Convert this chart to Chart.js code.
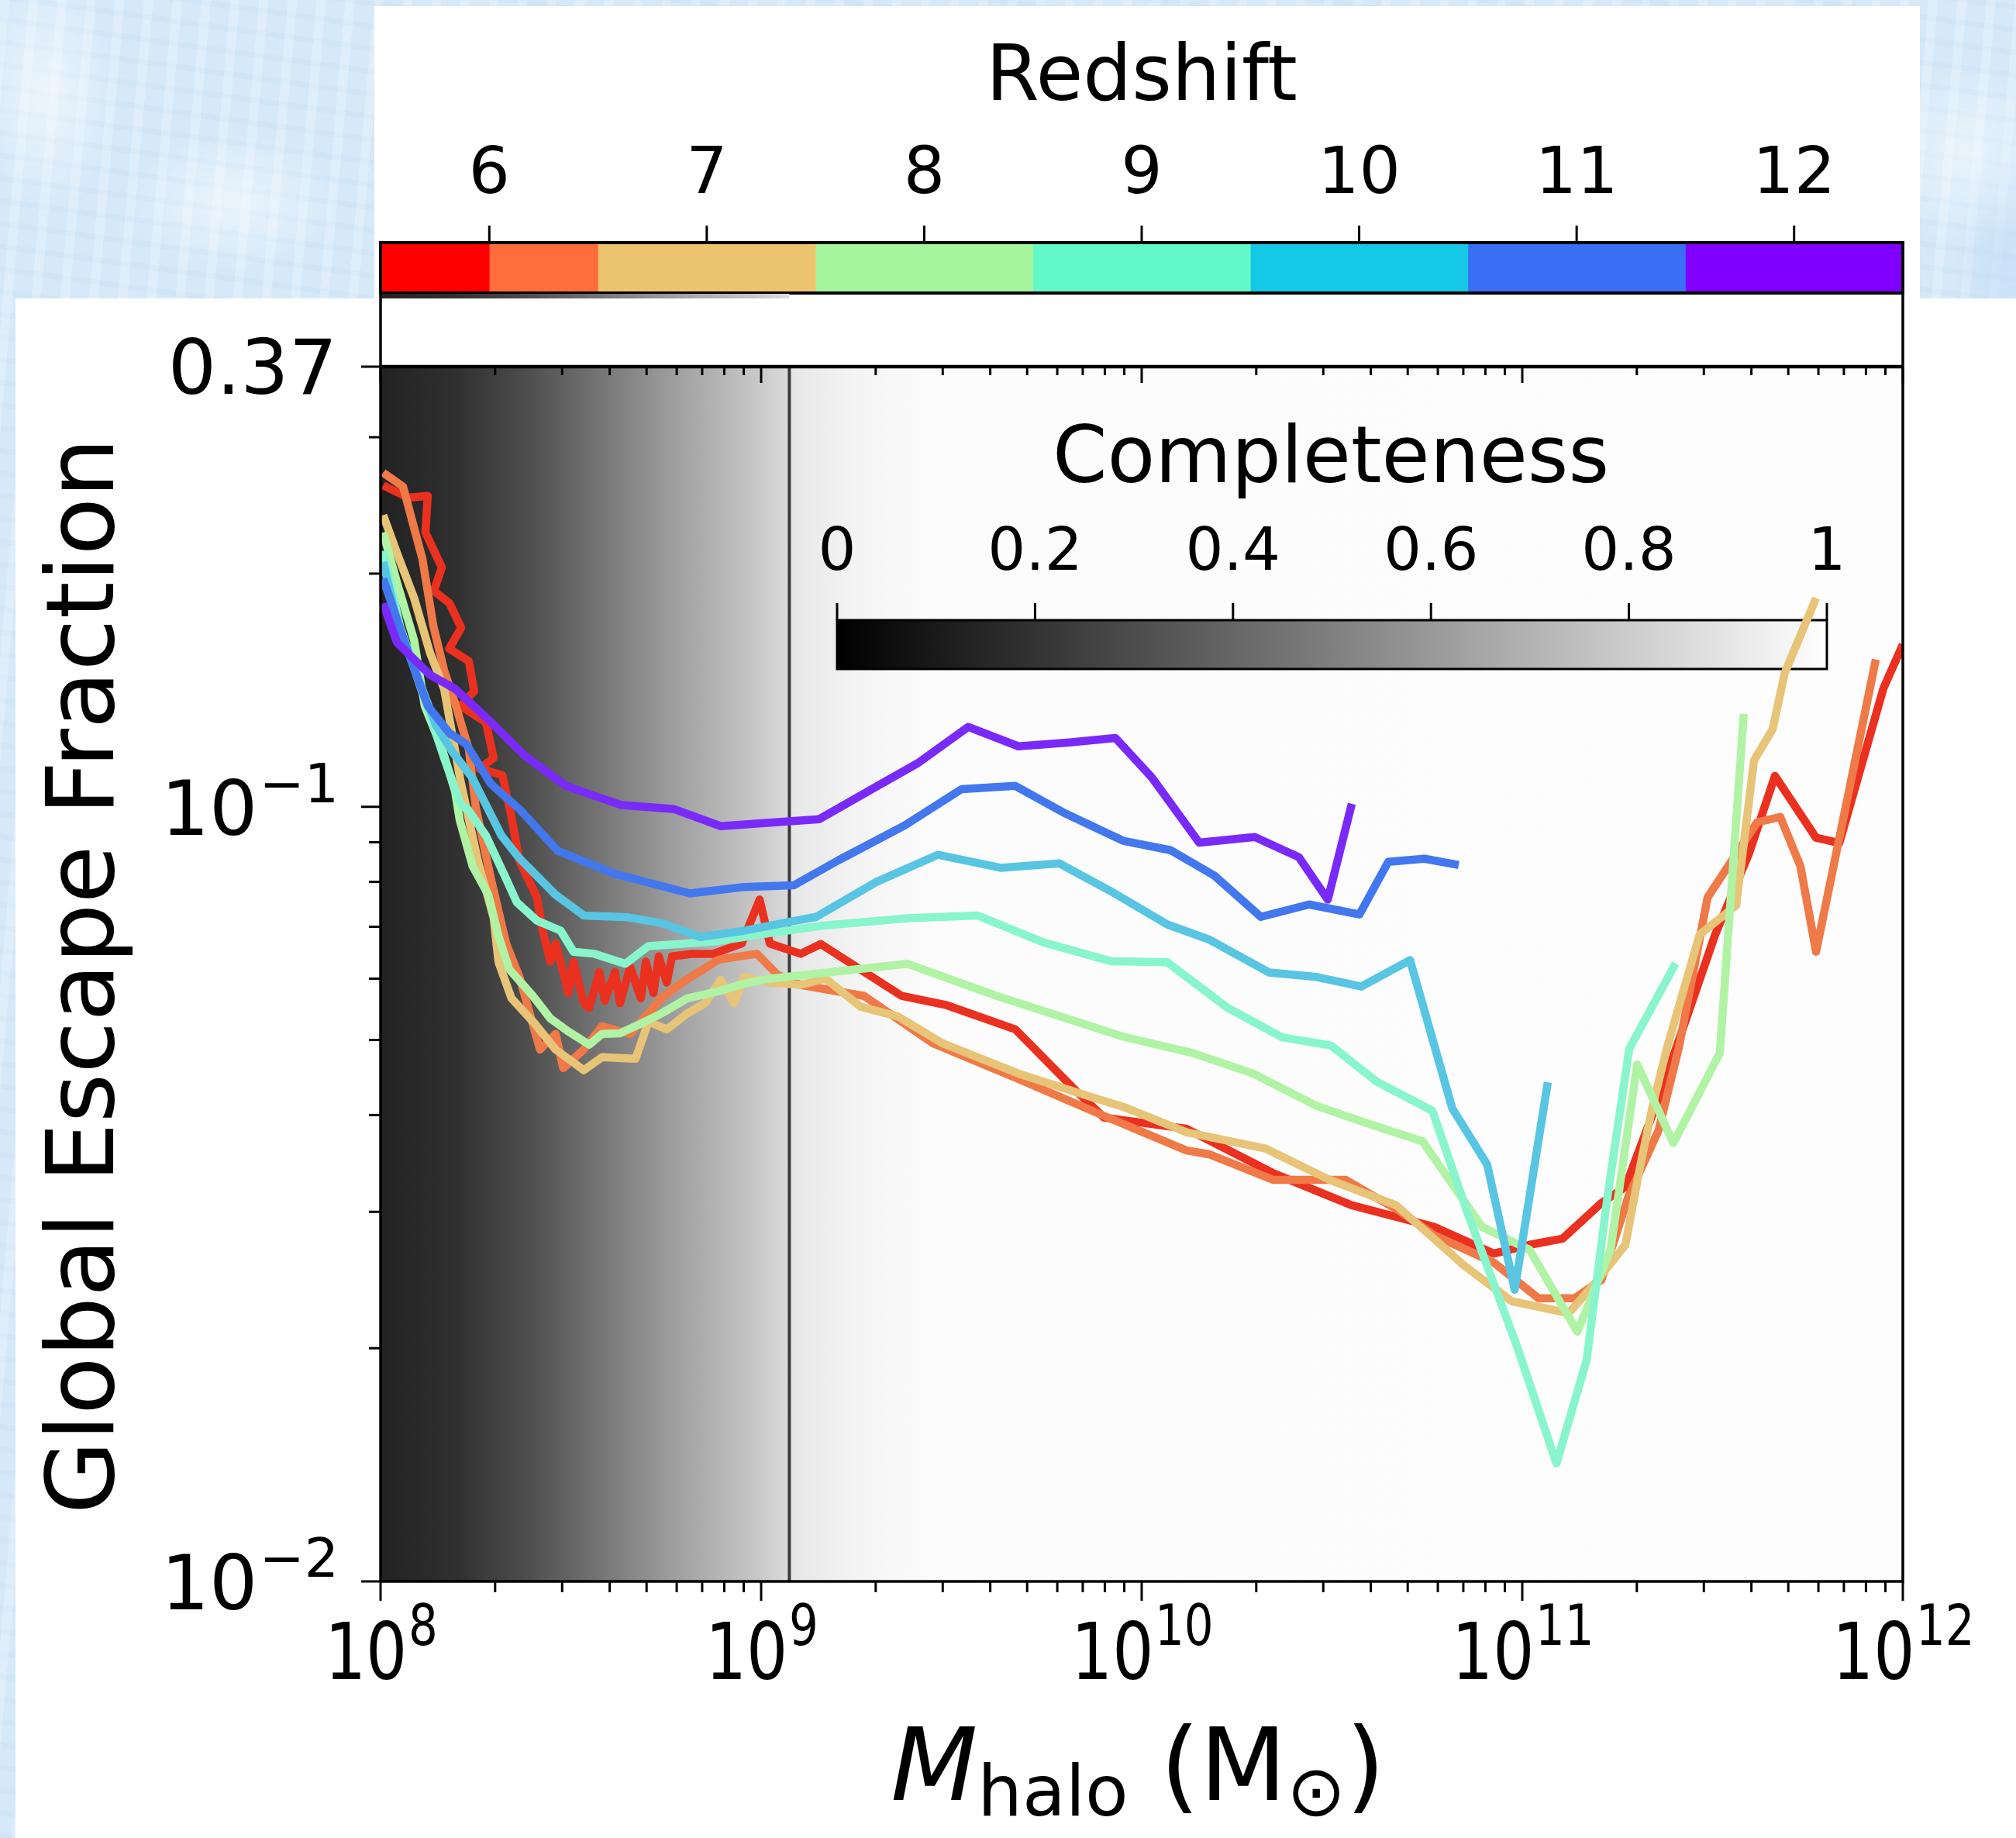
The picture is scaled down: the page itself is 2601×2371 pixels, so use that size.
<!DOCTYPE html>
<html>
<head>
<meta charset="utf-8">
<title>Global escape fraction vs halo mass</title>
<script src="https://cdn.jsdelivr.net/npm/chart.js@4.4.1/dist/chart.umd.min.js"></script>
<style>
  html, body { margin: 0; padding: 0; }
  body {
    width: 2601px; height: 2371px; position: relative; overflow: hidden;
    background-color: #d6e9f8;
    background-image:
      radial-gradient(ellipse 90px 160px at 60px 120px, rgba(255,255,255,0.55), rgba(255,255,255,0) 100%),
      radial-gradient(ellipse 140px 90px at 300px 260px, rgba(255,255,255,0.5), rgba(255,255,255,0) 100%),
      radial-gradient(ellipse 120px 120px at 2540px 200px, rgba(255,255,255,0.5), rgba(255,255,255,0) 100%),
      radial-gradient(ellipse 60px 200px at 2580px 330px, rgba(190,220,245,0.6), rgba(255,255,255,0) 100%),
      repeating-linear-gradient(95deg, rgba(255,255,255,0.22) 0 12px, rgba(255,255,255,0) 12px 37px),
      repeating-linear-gradient(8deg, rgba(180,212,240,0.18) 0 7px, rgba(255,255,255,0) 7px 29px);
  }
  .paper { position: absolute; background: #fff; }
  canvas { position: absolute; left: 0; top: 0; }
</style>
</head>
<body>
<div class="paper" style="left:483px; top:8px; width:1994px; height:377px;"></div>
<div class="paper" style="left:20px; top:385px; width:2581px; height:1986px;"></div>
<canvas id="zbar" width="2601" height="400"></canvas>
<canvas id="fesc" width="2601" height="2371"></canvas>
<script>
// ---- redshift colour bar ----
var colorbarEdges = [5.5, 6.0, 6.5, 7.5, 8.5, 9.5, 10.5, 11.5, 12.5];
var colorbarColors = ['#ff0000', '#ff6e3a', '#ecc46e', '#a4f59b', '#62f8c8', '#15c8e6', '#3a6ff5', '#7f00ff'];
var redshiftTicks = [6, 7, 8, 9, 10, 11, 12];

// ---- completeness (grey shading behind the curves) ----
var completenessMass  = [1e8, 1.585e8, 2.512e8, 3.981e8, 6.31e8, 1e9, 1.186e9, 1.189e9, 1.778e9, 2.818e9, 1e12];
var completenessLevel = [0.133, 0.19, 0.314, 0.478, 0.643, 0.792, 0.863, 0.90, 0.957, 0.988, 0.992];
var completenessCut = 1.186e9;
var completenessTicks = [0, 0.2, 0.4, 0.6, 0.8, 1];
var completenessTickLabels = ['0', '0.2', '0.4', '0.6', '0.8', '1'];

// ---- axes ----
var xDecades = [1e8, 1e9, 1e10, 1e11, 1e12];
var xDecadeExponents = ['8', '9', '10', '11', '12'];
var yDecades = [0.01, 0.1];
var yMinorTicks = [0.02, 0.03, 0.04, 0.05, 0.06, 0.07, 0.08, 0.09, 0.2, 0.3];
var minorFactors = [2, 3, 4, 5, 6, 7, 8, 9];
var yTopTick = 0.37;

// ---- curves: halo mass (Msun) and global escape fraction ----
var redMass = [1.016e8, 1.183e8, 1.330e8, 1.312e8, 1.449e8, 1.380e8, 1.517e8, 1.629e8, 1.514e8, 1.706e8, 1.762e8,
  1.622e8, 1.892e8, 1.982e8, 1.820e8, 2.089e8, 2.198e8, 2.265e8, 2.317e8, 2.576e8, 2.667e8, 2.793e8, 2.884e8, 3.020e8,
  3.116e8, 3.214e8, 3.420e8, 3.532e8, 3.758e8, 3.882e8, 4.130e8, 4.256e8, 4.529e8, 4.831e8,
  4.977e8, 5.212e8, 5.383e8, 5.649e8, 5.834e8, 6.592e8, 7.482e8, 8.892e8, 9.908e8, 1.054e9,
  1.271e9, 1.435e9, 2.339e9, 3.055e9, 4.656e9, 6.714e9, 7.962e9, 1.312e10, 2.203e10, 3.556e10,
  5.861e10, 8.414e10, 1.045e11, 1.276e11, 1.614e11, 1.866e11, 2.317e11, 3.214e11, 3.945e11, 4.613e11,
  5.916e11, 6.808e11, 8.892e11, 1.0e12];
var redFrac = [0.26, 0.2506, 0.252, 0.226, 0.2037, 0.19, 0.1832, 0.1702, 0.16, 0.1542, 0.141,
  0.135, 0.1285, 0.1156, 0.112, 0.1099, 0.098, 0.0906, 0.0851, 0.0764, 0.0692, 0.0631, 0.0666, 0.0612,
  0.0575, 0.0631, 0.0558, 0.055, 0.0612, 0.0562, 0.0612, 0.0558, 0.0621, 0.0566,
  0.0631, 0.0575, 0.0641, 0.0593, 0.0641, 0.0646, 0.0646, 0.0666, 0.0759, 0.0666,
  0.0646, 0.0665, 0.057, 0.0555, 0.0516, 0.043, 0.0397, 0.0384, 0.0337, 0.0306,
  0.0287, 0.0265, 0.0272, 0.0277, 0.0308, 0.0323, 0.0429, 0.0684, 0.0871, 0.1096,
  0.0912, 0.0898, 0.1422, 0.162];

var orangeMass = [1.016e8, 1.146e8, 1.225e8, 1.288e8, 1.377e8, 1.469e8, 1.570e8, 1.706e8, 1.778e8, 1.950e8,
  2.138e8, 2.317e8, 2.624e8, 2.884e8, 3.020e8, 3.420e8, 3.819e8, 4.529e8, 5.470e8, 6.194e8,
  7.727e8, 9.750e8, 1.104e9, 1.271e9, 1.862e9, 2.831e9, 4.656e9, 7.962e9, 1.312e10, 1.503e10,
  2.213e10, 3.428e10, 4.742e10, 5.861e10, 8.414e10, 1.104e11, 1.371e11, 1.614e11, 1.901e11, 2.280e11,
  2.582e11, 3.069e11, 4.140e11, 4.764e11, 5.383e11, 5.916e11, 8.492e11];
var orangeFrac = [0.27, 0.259, 0.229, 0.209, 0.171, 0.150, 0.136, 0.1186, 0.100, 0.0807,
  0.0666, 0.0603, 0.0486, 0.0509, 0.046, 0.0486, 0.0521, 0.0509, 0.0566, 0.0593,
  0.0635, 0.0646, 0.0607, 0.0589, 0.057, 0.0495, 0.0447, 0.0399, 0.036, 0.0356,
  0.033, 0.033, 0.0301, 0.028, 0.0258, 0.0232, 0.0232, 0.0245, 0.0314, 0.0382,
  0.049, 0.0764, 0.0955, 0.097, 0.0838, 0.065, 0.155];

var tanMass = [1.016e8, 1.107e8, 1.225e8, 1.349e8, 1.469e8, 1.622e8, 1.803e8, 1.982e8, 2.042e8, 2.208e8, 2.541e8,
  2.884e8, 3.420e8, 3.819e8, 4.677e8, 5.058e8, 5.649e8, 6.397e8, 7.129e8, 7.834e8, 8.492e8,
  9.016e8, 1.054e9, 1.271e9, 1.476e9, 1.824e9, 2.291e9, 2.999e9, 4.831e9, 7.379e9, 8.933e9,
  1.312e10, 2.118e10, 3.112e10, 4.656e10, 5.861e10, 7.015e10, 9.376e10, 1.324e11, 1.556e11, 1.866e11,
  2.042e11, 2.198e11, 2.404e11, 2.924e11, 3.648e11, 4.064e11, 4.550e11, 4.898e11, 5.916e11];
var tanFrac = [0.238, 0.212, 0.186, 0.158, 0.142, 0.108, 0.0851, 0.0719, 0.063, 0.0566, 0.0525,
  0.0486, 0.0457, 0.0475, 0.0473, 0.0528, 0.0516, 0.0541, 0.0558, 0.0598, 0.0558,
  0.0603, 0.0593, 0.0589, 0.060, 0.0552, 0.0536, 0.0495, 0.0451, 0.0422, 0.041,
  0.038, 0.0362, 0.033, 0.0306, 0.0277, 0.0256, 0.023, 0.0222, 0.0243, 0.0272,
  0.0344, 0.041, 0.049, 0.0684, 0.0746, 0.1148, 0.126, 0.149, 0.186];

var greenMass = [1.016e8, 1.107e8, 1.225e8, 1.306e8, 1.449e8, 1.570e8, 1.614e8, 1.746e8, 1.919e8, 2.042e8,
  2.178e8, 2.506e8, 2.793e8, 3.112e8, 3.532e8, 3.819e8, 4.256e8, 4.831e8, 5.470e8, 6.397e8,
  7.727e8, 9.016e8, 1.054e9, 1.442e9, 2.427e9, 4.159e9, 8.933e9, 1.361e10, 1.954e10, 2.884e10,
  3.990e10, 5.470e10, 7.834e10, 1.045e11, 1.396e11, 1.706e11, 2.004e11, 2.495e11, 3.304e11, 3.819e11];
var greenFrac = [0.226, 0.194, 0.164, 0.135, 0.119, 0.1047, 0.0962, 0.0838, 0.077, 0.0681,
  0.0617, 0.0571, 0.0533, 0.0513, 0.0493, 0.0509, 0.051, 0.0525, 0.0541, 0.0566,
  0.0578, 0.0591, 0.060, 0.061, 0.0627, 0.057, 0.0505, 0.0481, 0.0453, 0.0411,
  0.0389, 0.037, 0.0287, 0.0268, 0.021, 0.0268, 0.0465, 0.0368, 0.0481, 0.1318];

var aquaMass = [1.016e8, 1.125e8, 1.242e8, 1.330e8, 1.469e8, 1.626e8, 1.694e8, 1.892e8, 2.138e8, 2.280e8,
  2.576e8, 2.972e8, 3.214e8, 3.648e8, 4.395e8, 5.058e8, 6.109e8, 7.727e8, 1.054e9, 1.442e9,
  2.427e9, 3.698e9, 5.534e9, 8.299e9, 1.167e10, 1.683e10, 2.339e10, 3.141e10, 4.140e10, 5.808e10,
  7.145e10, 9.727e10, 1.230e11, 1.476e11, 1.675e11, 1.910e11, 2.529e11];
var aquaFrac = [0.214, 0.171, 0.148, 0.134, 0.1156, 0.1005, 0.0993, 0.0918, 0.0807, 0.0753,
  0.0713, 0.0692, 0.065, 0.0646, 0.0627, 0.0661, 0.0665, 0.0671, 0.0687, 0.0702,
  0.0718, 0.0724, 0.0668, 0.0632, 0.063, 0.055, 0.0504, 0.0492, 0.0442, 0.0405,
  0.0301, 0.020, 0.0142, 0.0193, 0.0314, 0.0487, 0.0628];

var cyanMass = [1.016e8, 1.107e8, 1.396e8, 1.549e8, 1.742e8, 1.888e8, 2.075e8, 2.317e8, 2.884e8, 3.420e8,
  4.467e8, 5.470e8, 6.918e8, 9.016e8, 1.194e9, 1.396e9, 2.009e9, 2.911e9, 4.276e9, 6.081e9,
  8.453e9, 1.167e10, 1.503e10, 2.163e10, 2.884e10, 3.776e10, 5.070e10, 6.546e10, 8.091e10, 9.550e10,
  1.167e11];
var cyanFrac = [0.207, 0.173, 0.1276, 0.1175, 0.109, 0.1008, 0.0919, 0.0858, 0.077, 0.0724,
  0.072, 0.0708, 0.0679, 0.0692, 0.0711, 0.0721, 0.080, 0.0867, 0.0834, 0.0845,
  0.0774, 0.0705, 0.0674, 0.0611, 0.0603, 0.0586, 0.0634, 0.0408, 0.0345, 0.0238,
  0.0441];

var blueMass = [1.016e8, 1.183e8, 1.330e8, 1.517e8, 1.679e8, 1.950e8, 2.317e8, 2.924e8, 4.130e8, 6.501e8,
  9.016e8, 1.219e9, 1.596e9, 2.382e9, 3.365e9, 4.656e9, 6.310e9, 8.933e9, 1.191e10, 1.552e10,
  2.056e10, 2.754e10, 3.733e10, 4.446e10, 5.534e10, 6.808e10];
var blueFrac = [0.197, 0.158, 0.135, 0.1245, 0.1205, 0.107, 0.0993, 0.0877, 0.0819, 0.0773,
  0.0788, 0.0792, 0.0853, 0.0946, 0.1054, 0.1064, 0.098, 0.0904, 0.0879, 0.0815,
  0.0721, 0.0748, 0.0726, 0.0849, 0.0857, 0.0841];

var purpleMass = [1.016e8, 1.104e8, 1.349e8, 1.570e8, 1.954e8, 2.393e8, 3.069e8, 4.295e8, 5.916e8, 7.834e8,
  1.089e9, 1.422e9, 1.928e9, 2.576e9, 3.499e9, 4.742e9, 6.457e9, 8.531e9, 1.062e10, 1.416e10,
  1.982e10, 2.588e10, 3.083e10, 3.565e10];
var purpleFrac = [0.183, 0.163, 0.148, 0.142, 0.1285, 0.1164, 0.1064, 0.1005, 0.0993, 0.0944,
  0.0955, 0.0964, 0.105, 0.1138, 0.1268, 0.1197, 0.1211, 0.1227, 0.1092, 0.0899,
  0.0914, 0.0861, 0.0759, 0.1009];

var seriesNames = ['z 5.5-6.0', 'z 6.0-6.5', 'z 7', 'z 8', 'z 9', 'z 10', 'z 11', 'z 12'];
var lineColors = ['#ea311f', '#ef7947', '#e7c477', '#b0f3a4', '#88f5cd', '#58c5e2', '#4277ee', '#7a2af8'];
var seriesMass = [redMass, orangeMass, tanMass, greenMass, aquaMass, cyanMass, blueMass, purpleMass];
var seriesFrac = [redFrac, orangeFrac, tanFrac, greenFrac, aquaFrac, cyanFrac, blueFrac, purpleFrac];

var FONT = '"DejaVu Sans"';

function seg(ctx, x1, y1, x2, y2) {
  ctx.beginPath();
  ctx.moveTo(x1, y1);
  ctx.lineTo(x2, y2);
  ctx.stroke();
}

function grey(v) {
  var c = Math.round(v * 255);
  return 'rgb(' + c + ',' + c + ',' + c + ')';
}

// "10" with a raised exponent; align is 'center' or 'right'
function drawPower(ctx, base, exp, x, y, size, align, squeeze) {
  var expSize = size * 0.71;
  ctx.save();
  ctx.translate(x, y);
  ctx.scale(squeeze || 1, 1);
  ctx.textBaseline = 'alphabetic';
  ctx.textAlign = 'left';
  ctx.font = size + 'px ' + FONT;
  var wb = ctx.measureText(base).width;
  ctx.font = expSize + 'px ' + FONT;
  var we = ctx.measureText(exp).width;
  var x0 = align === 'right' ? -(wb + we) : -(wb + we) / 2;
  ctx.font = size + 'px ' + FONT;
  ctx.fillText(base, x0, 0);
  ctx.font = expSize + 'px ' + FONT;
  ctx.fillText(exp, x0 + wb + 2, -size * 0.43);
  ctx.restore();
}

// ---------- redshift colour bar ----------
var zbarDecor = {
  id: 'zbarDecor',
  afterDraw: function(chart) {
    var ctx = chart.ctx, a = chart.chartArea, x = chart.scales.x;
    ctx.save();
    ctx.strokeStyle = '#000';
    ctx.lineWidth = 4;
    ctx.strokeRect(a.left, a.top, a.right - a.left, a.bottom - a.top);
    ctx.lineWidth = 3;
    ctx.fillStyle = '#000';
    ctx.font = '84px ' + FONT;
    ctx.textAlign = 'center';
    ctx.textBaseline = 'alphabetic';
    redshiftTicks.forEach(function(z) {
      var px = x.getPixelForValue(z);
      seg(ctx, px, a.top, px, a.top - 22);
      ctx.fillText(String(z), px, 249);
    });
    ctx.font = '99px ' + FONT;
    ctx.fillText('Redshift', (a.left + a.right) / 2, 129);
    ctx.restore();
  }
};

new Chart(document.getElementById('zbar'), {
  type: 'bar',
  data: {
    labels: ['Redshift'],
    datasets: colorbarColors.map(function(c, i) {
      return {
        label: 'z ' + colorbarEdges[i] + '-' + colorbarEdges[i + 1],
        data: [[colorbarEdges[i], colorbarEdges[i + 1]]],
        backgroundColor: c,
        borderWidth: 0,
        barPercentage: 1,
        categoryPercentage: 1,
        grouped: false
      };
    })
  },
  options: {
    indexAxis: 'y',
    responsive: false,
    animation: false,
    devicePixelRatio: 1,
    layout: { padding: { left: 491, right: 146, top: 0, bottom: 22 } },
    plugins: { legend: { display: false }, tooltip: { enabled: false } },
    scales: {
      x: {
        type: 'linear', position: 'top', min: 5.5, max: 12.5,
        grid: { display: false }, border: { display: false }, ticks: { display: false },
        afterFit: function(s) { s.height = 313; }
      },
      y: { display: false }
    }
  },
  plugins: [zbarDecor]
});

// ---------- main panel ----------
var mainDecor = {
  id: 'mainDecor',
  beforeDatasetsDraw: function(chart) {
    var ctx = chart.ctx, a = chart.chartArea, x = chart.scales.x;
    var w = a.right - a.left;
    var grad = ctx.createLinearGradient(a.left, 0, a.right, 0);
    completenessMass.forEach(function(m, i) {
      var t = (x.getPixelForValue(m) - a.left) / w;
      grad.addColorStop(Math.min(1, Math.max(0, t)), grey(completenessLevel[i]));
    });
    ctx.save();
    ctx.fillStyle = grad;
    ctx.fillRect(a.left, a.top, w, a.bottom - a.top);
    var cutX = x.getPixelForValue(completenessCut);
    ctx.fillRect(a.left, 379, cutX - a.left, 6);
    ctx.strokeStyle = '#3a3a3a';
    ctx.lineWidth = 4;
    seg(ctx, cutX, a.top, cutX, a.bottom);

    // inset completeness colour bar
    var cb = { left: 1080, right: 2357, top: 800, bottom: 863 };
    var cg = ctx.createLinearGradient(cb.left, 0, cb.right, 0);
    cg.addColorStop(0, '#000');
    cg.addColorStop(1, '#fff');
    ctx.fillStyle = cg;
    ctx.fillRect(cb.left, cb.top, cb.right - cb.left, cb.bottom - cb.top);
    ctx.strokeStyle = '#000';
    ctx.lineWidth = 3;
    ctx.strokeRect(cb.left, cb.top, cb.right - cb.left, cb.bottom - cb.top);
    ctx.fillStyle = '#000';
    ctx.textAlign = 'center';
    ctx.textBaseline = 'alphabetic';
    ctx.font = '77px ' + FONT;
    completenessTicks.forEach(function(v, i) {
      var px = cb.left + v * (cb.right - cb.left);
      seg(ctx, px, cb.top, px, cb.top - 22);
      ctx.fillText(completenessTickLabels[i], px, 735);
    });
    ctx.font = '101px ' + FONT;
    ctx.fillText('Completeness', 1717, 622);
    ctx.restore();
  },
  afterDraw: function(chart) {
    var ctx = chart.ctx, a = chart.chartArea, x = chart.scales.x, y = chart.scales.y;
    ctx.save();
    ctx.strokeStyle = '#000';
    ctx.fillStyle = '#000';
    ctx.lineCap = 'butt';
    // frame
    ctx.lineWidth = 3.5;
    seg(ctx, a.left, 378, a.left, a.bottom + 1.75);
    seg(ctx, a.right, 378, a.right, a.bottom + 1.75);
    seg(ctx, a.left, a.bottom, a.right, a.bottom);
    ctx.lineWidth = 4.5;
    seg(ctx, a.left, a.top, a.right, a.top);

    // x ticks: outward at the bottom, inward at the top
    ctx.lineWidth = 3;
    xDecades.forEach(function(d, i) {
      var px = x.getPixelForValue(d);
      seg(ctx, px, a.bottom, px, a.bottom + 25);
      seg(ctx, px, a.top, px, a.top + 21);
      if (i < xDecades.length - 1) {
        minorFactors.forEach(function(f) {
          var pm = x.getPixelForValue(d * f);
          seg(ctx, pm, a.bottom, pm, a.bottom + 14);
          seg(ctx, pm, a.top, pm, a.top + 11);
        });
      }
      drawPower(ctx, '10', xDecadeExponents[i], px, a.bottom + 126, 102, 'center', 0.82);
    });

    // y ticks on the left
    yMinorTicks.forEach(function(v) {
      var py = y.getPixelForValue(v);
      seg(ctx, a.left, py, a.left - 15, py);
    });
    yDecades.concat([yTopTick]).forEach(function(v) {
      var py = y.getPixelForValue(v);
      seg(ctx, a.left, py, a.left - 25, py);
    });
    ctx.font = '98px ' + FONT;
    ctx.textAlign = 'right';
    ctx.textBaseline = 'alphabetic';
    ctx.fillText(String(yTopTick), 435, y.getPixelForValue(yTopTick) + 35);
    drawPower(ctx, '10', '\u22121', 435, y.getPixelForValue(0.1) + 36, 98, 'right');
    drawPower(ctx, '10', '\u22122', 435, y.getPixelForValue(0.01) + 36, 98, 'right');

    // y title
    ctx.save();
    ctx.translate(146, 1259);
    ctx.rotate(-Math.PI / 2);
    ctx.textAlign = 'center';
    ctx.font = '122px ' + FONT;
    ctx.fillText('Global Escape Fraction', 0, 0);
    ctx.restore();

    // x title: M_halo (M_sun)
    var F = 130, S = F * 0.7, drop = F * 0.15;
    var parts = [
      { t: 'M', f: 'italic ' + F + 'px ' + FONT, dy: 0 },
      { t: 'halo', f: S + 'px ' + FONT, dy: drop },
      { t: ' (M', f: F + 'px ' + FONT, dy: 0 },
      { t: '\u2299', f: S + 'px ' + FONT, dy: drop },
      { t: ')', f: F + 'px ' + FONT, dy: 0 }
    ];
    ctx.textAlign = 'left';
    var total = 0;
    parts.forEach(function(p) { ctx.font = p.f; p.w = ctx.measureText(p.t).width; total += p.w; });
    var cx = 1468 - total / 2;
    parts.forEach(function(p) {
      ctx.font = p.f;
      ctx.fillText(p.t, cx, 2322 + p.dy);
      cx += p.w;
    });
    ctx.restore();
  }
};

new Chart(document.getElementById('fesc'), {
  type: 'line',
  data: {
    datasets: seriesNames.map(function(name, i) {
      return {
        label: name,
        data: seriesMass[i].map(function(m, k) { return { x: m, y: seriesFrac[i][k] }; }),
        borderColor: lineColors[i],
        borderWidth: 10.5,
        pointRadius: 0,
        fill: false,
        tension: 0,
        borderJoinStyle: 'round',
        borderCapStyle: 'butt',
        order: seriesNames.length - i
      };
    })
  },
  options: {
    responsive: false,
    animation: false,
    devicePixelRatio: 1,
    layout: { padding: { left: 0, right: 146, top: 473, bottom: 0 } },
    plugins: { legend: { display: false }, tooltip: { enabled: false } },
    scales: {
      x: {
        type: 'logarithmic', min: 1e8, max: 1e12,
        grid: { display: false }, border: { display: false }, ticks: { display: false },
        afterFit: function(s) { s.height = 331; }
      },
      y: {
        type: 'logarithmic', min: 0.01, max: 0.37,
        grid: { display: false }, border: { display: false }, ticks: { display: false },
        afterFit: function(s) { s.width = 491; }
      }
    }
  },
  plugins: [mainDecor]
});
</script>
</body>
</html>
